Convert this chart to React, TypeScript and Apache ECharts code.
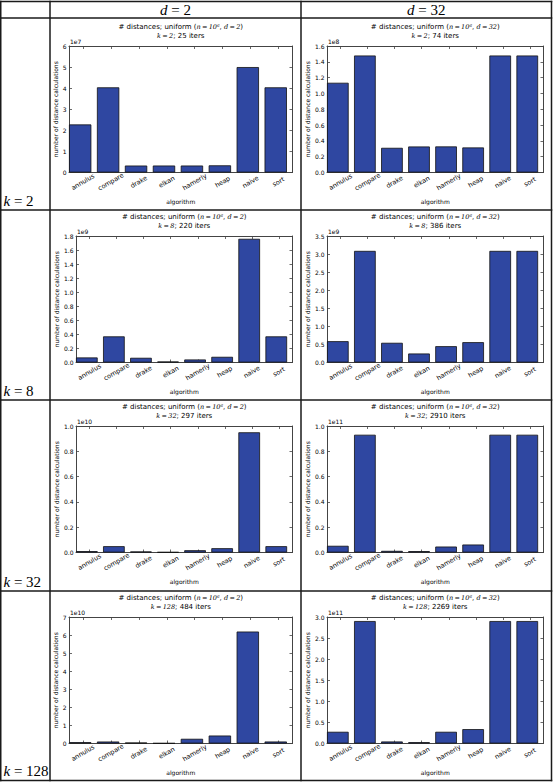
import React, { useEffect, useRef } from 'react';
import * as echarts from 'echarts';

// ---------- data ----------
const algorithms = ['annulus', 'compare', 'drake', 'elkan', 'hamerly', 'heap', 'naive', 'sort'];
const kValues = [2, 8, 32, 128];
const dValues = [2, 32];
const iterCounts = [
  [25, 74],
  [220, 386],
  [297, 2910],
  [484, 2269],
];

// number of distance calculations, one array per (k, d) panel
const k2d2 = [2.28e7, 4.04e7, 0.33e7, 0.33e7, 0.33e7, 0.34e7, 5.0e7, 4.04e7];
const k2d32 = [1.135e8, 1.48e8, 0.312e8, 0.329e8, 0.33e8, 0.317e8, 1.48e8, 1.48e8];
const k8d2 = [0.072e9, 0.372e9, 0.067e9, 0.014e9, 0.043e9, 0.081e9, 1.76e9, 0.372e9];
const k8d32 = [0.59e9, 3.088e9, 0.545e9, 0.249e9, 0.452e9, 0.563e9, 3.088e9, 3.088e9];
const k32d2 = [0.011e10, 0.05e10, 0.008e10, 0.003e10, 0.018e10, 0.034e10, 0.9504e10, 0.05e10];
const k32d32 = [0.053e11, 0.931e11, 0.013e11, 0.011e11, 0.047e11, 0.063e11, 0.931e11, 0.931e11];
const k128d2 = [0.074e10, 0.11e10, 0.055e10, 0.02e10, 0.26e10, 0.44e10, 6.195e10, 0.11e10];
const k128d32 = [0.278e11, 2.904e11, 0.048e11, 0.032e11, 0.278e11, 0.341e11, 2.904e11, 2.904e11];

const panelValues = [
  [k2d2, k2d32],
  [k8d2, k8d32],
  [k32d2, k32d32],
  [k128d2, k128d32],
];

// y axis: exponent of the offset label, max and tick interval (in units of 10^exp)
const yExponents = [
  [7, 8],
  [9, 9],
  [10, 11],
  [10, 11],
];
const yMaxes = [
  [6, 1.6],
  [1.8, 3.5],
  [1.0, 1.0],
  [7, 3.0],
];
const yIntervals = [
  [1, 0.2],
  [0.2, 0.5],
  [0.2, 0.2],
  [1, 0.5],
];

// ---------- layout ----------
const W = 553;
const H = 782;
const rowBottoms = [210, 400, 591, 780.5];
const colLefts = [50, 301];
const plotTops = [46, 236, 426, 617];
const plotHeight = 126.5;

const SANS = 'DejaVu Sans';
const SERIF = 'Liberation Serif';
const MATH = 'DejaVu Serif';
const frameColor = '#444';
const tableColor = '#1a1a1a';
const barColor = '#2f47a1';
const TS = '\u2009';

function buildOption() {
  const grids: any[] = [];
  const xAxes: any[] = [];
  const yAxes: any[] = [];
  const series: any[] = [];
  const graphics: any[] = [];

  // table lines
  const hLines = [1.5, 18, 210, 400, 591, 780.5];
  const vLines = [0.75, 50, 301, 551.5];
  hLines.forEach((y) =>
    graphics.push({
      type: 'line',
      shape: { x1: 0, y1: y, x2: 552.25, y2: y },
      style: { stroke: tableColor, lineWidth: 1.5 },
      silent: true,
    })
  );
  vLines.forEach((x) =>
    graphics.push({
      type: 'line',
      shape: { x1: x, y1: 0.75, x2: x, y2: 781.25 },
      style: { stroke: tableColor, lineWidth: 1.5 },
      silent: true,
    })
  );

  const bigRich = {
    i: { fontFamily: SERIF, fontStyle: 'italic', fontSize: 15, fill: '#000' },
    r: { fontFamily: SERIF, fontSize: 15, fill: '#000' },
  };

  // column headers
  dValues.forEach((d, c) => {
    graphics.push({
      type: 'text',
      x: (colLefts[c] + (c === 0 ? 301 : 551.5)) / 2,
      y: 10,
      silent: true,
      style: { text: `{i|d}{r| = ${d}}`, rich: bigRich, align: 'center', verticalAlign: 'middle' },
    });
  });

  // row labels
  kValues.forEach((k, r) => {
    graphics.push({
      type: 'text',
      x: 3.5,
      y: rowBottoms[r] - 9.5,
      silent: true,
      style: { text: `{i|k}{r| = ${k}}`, rich: bigRich, align: 'left', verticalAlign: 'middle' },
    });
  });

  const titleRich = {
    s: { fontFamily: SANS, fontSize: 7, fill: '#000' },
    m: { fontFamily: MATH, fontStyle: 'italic', fontSize: 6.5, fill: '#000' },
  };

  let p = 0;
  for (let r = 0; r < kValues.length; r++) {
    for (let c = 0; c < dValues.length; c++) {
      const colLeft = colLefts[c];
      const interval = yIntervals[r][c];
      const intOnly = interval % 1 === 0;
      const decimals = intOnly ? 0 : 1;
      const left = colLeft + (intOnly ? 19 : 26);
      const right = colLeft + 242.5;
      const top = plotTops[r];
      const scale = Math.pow(10, yExponents[r][c]);
      const values = panelValues[r][c];

      grids.push({ left, top, width: right - left, height: plotHeight, containLabel: false });

      const lineStyle = { color: frameColor, width: 1 };
      const tick = { show: true, inside: true, length: 3, lineStyle: { color: frameColor, width: 0.8 } };

      xAxes.push({
        type: 'category',
        gridIndex: p,
        position: 'bottom',
        data: algorithms,
        boundaryGap: true,
        axisLine: { show: true, onZero: false, lineStyle },
        axisTick: { ...tick, alignWithLabel: true, interval: 0 },
        axisLabel: {
          show: true,
          interval: 0,
          rotate: 30,
          align: 'center',
          verticalAlign: 'middle',
          margin: 9.5,
          fontSize: 6.5,
          fontFamily: SANS,
          color: '#000',
        },
        splitLine: { show: false },
        name: 'algorithm',
        nameLocation: 'middle',
        nameGap: 25.5,
        nameTextStyle: { fontSize: 6, fontFamily: SANS, color: '#000' },
      });
      xAxes.push({
        type: 'category',
        gridIndex: p,
        position: 'top',
        data: algorithms,
        boundaryGap: true,
        axisLine: { show: true, onZero: false, lineStyle },
        axisTick: { ...tick, alignWithLabel: true, interval: 0 },
        axisLabel: { show: false },
        splitLine: { show: false },
      });

      yAxes.push({
        type: 'value',
        gridIndex: p,
        position: 'left',
        min: 0,
        max: yMaxes[r][c],
        interval,
        axisLine: { show: true, onZero: false, lineStyle },
        axisTick: tick,
        axisLabel: {
          show: true,
          fontSize: 6,
          fontFamily: SANS,
          color: '#000',
          margin: 2.5,
          formatter: (v: number) => v.toFixed(decimals),
        },
        splitLine: { show: false },
        name: 'number of distance calculations',
        nameLocation: 'middle',
        nameGap: left - colLeft - 9.7,
        nameTextStyle: { fontSize: 6, fontFamily: SANS, color: '#000' },
      });
      yAxes.push({
        type: 'value',
        gridIndex: p,
        position: 'right',
        min: 0,
        max: yMaxes[r][c],
        interval,
        axisLine: { show: true, onZero: false, lineStyle },
        axisTick: tick,
        axisLabel: { show: false },
        splitLine: { show: false },
      });

      series.push({
        type: 'bar',
        name: `k=${kValues[r]}, d=${dValues[c]}`,
        xAxisIndex: 2 * p,
        yAxisIndex: 2 * p,
        data: values.map((v) => v / scale),
        barWidth: '80%',
        barGap: '-75%',
        itemStyle: { color: barColor, borderColor: '#111', borderWidth: 0.8 },
        silent: true,
      });
      // empty companion series: shifts the real bars to the left part of each slot
      series.push({
        type: 'bar',
        xAxisIndex: 2 * p,
        yAxisIndex: 2 * p,
        data: values.map(() => null),
        barWidth: '80%',
        barGap: '-75%',
        silent: true,
      });

      // offset label (1eX)
      graphics.push({
        type: 'text',
        x: left + 1,
        y: top - 1.5,
        silent: true,
        style: {
          text: `1e${yExponents[r][c]}`,
          fontFamily: SANS,
          fontSize: 6,
          fill: '#000',
          align: 'left',
          verticalAlign: 'bottom',
        },
      });

      // titles
      const cx = (left + right) / 2;
      graphics.push({
        type: 'text',
        x: cx,
        y: top - 19,
        silent: true,
        style: {
          text: `{s|# distances; uniform (}{m|n${TS}=${TS}10⁶}{s|, }{m|d${TS}=${TS}${dValues[c]}}{s|)}`,
          rich: titleRich,
          align: 'center',
          verticalAlign: 'middle',
        },
      });
      graphics.push({
        type: 'text',
        x: cx,
        y: top - 10.5,
        silent: true,
        style: {
          text: `{m|k${TS}=${TS}${kValues[r]}}{s|; ${iterCounts[r][c]} iters}`,
          rich: titleRich,
          align: 'center',
          verticalAlign: 'middle',
        },
      });

      p++;
    }
  }

  return {
    animation: false,
    backgroundColor: '#fff',
    textStyle: { fontFamily: SANS },
    grid: grids,
    xAxis: xAxes,
    yAxis: yAxes,
    series,
    graphic: graphics,
  };
}

export default function App() {
  const ref = useRef<HTMLDivElement>(null);
  useEffect(() => {
    if (!ref.current) return;
    const chart = echarts.init(ref.current, null, { renderer: 'svg', width: W, height: H });
    chart.setOption(buildOption() as any);
    return () => chart.dispose();
  }, []);
  return (
    <div
      ref={ref}
      style={{ position: 'fixed', left: 0, top: 0, width: W, height: H, background: '#fff' }}
    />
  );
}
